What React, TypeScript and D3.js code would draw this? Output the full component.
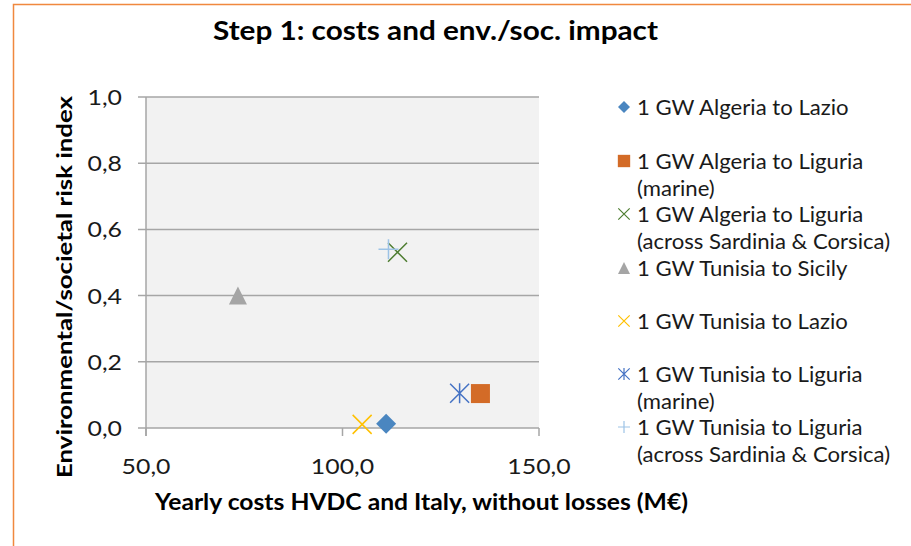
import React from "react";
import * as d3 from "d3";

const titleText = "Step 1: costs and env./soc. impact";
const xTitle = "Yearly costs HVDC and Italy, without losses (M€)";
const yTitle = "Environmental/societal risk index";

const seriesNames = [
  ["1 GW Algeria to Lazio"],
  ["1 GW Algeria to Liguria", "(marine)"],
  ["1 GW Algeria to Liguria", "(across Sardinia & Corsica)"],
  ["1 GW Tunisia to Sicily"],
  ["1 GW Tunisia to Lazio"],
  ["1 GW Tunisia to Liguria", "(marine)"],
  ["1 GW Tunisia to Liguria", "(across Sardinia & Corsica)"],
];
const xValues = [111.1, 135.1, 114.0, 73.4, 105.0, 129.8, 111.7];
const yValues = [0.013, 0.104, 0.531, 0.4, 0.011, 0.105, 0.54];
const markerTypes = ["diamond", "square", "x", "triangle", "x", "star", "plus"];
const colors = ["#4a86c0", "#d36b27", "#4e7d31", "#a5a5a5", "#ffc000", "#4472c4", "#9dc3e6"];

const xTicks = [50, 100, 150];
const yTicks = [0, 0.2, 0.4, 0.6, 0.8, 1.0];
const legendRowY = [107, 161, 214, 268, 321, 374, 427];

const FONT = "Lato, 'Open Sans', sans-serif";
const fmt = (v: number) => v.toFixed(1).replace(".", ",");

function Marker({ type, color, cx, cy, s }: { type: string; color: string; cx: number; cy: number; s: number }) {
  const h = s / 2;
  if (type === "diamond") {
    const p = d3.path();
    p.moveTo(cx, cy - h); p.lineTo(cx + h, cy); p.lineTo(cx, cy + h); p.lineTo(cx - h, cy); p.closePath();
    return <path d={p.toString()} fill={color} />;
  }
  if (type === "square") {
    const q = h * 0.95;
    return <rect x={cx - q} y={cy - q} width={2 * q} height={2 * q} fill={color} />;
  }
  if (type === "triangle") {
    const p = d3.path();
    p.moveTo(cx, cy - h); p.lineTo(cx + h, cy + h); p.lineTo(cx - h, cy + h); p.closePath();
    return <path d={p.toString()} fill={color} />;
  }
  const sw = s > 14 ? 1.5 : 1.2;
  if (type === "x") {
    const q = h * 0.95;
    return (
      <path d={`M${cx - q},${cy - q}L${cx + q},${cy + q}M${cx - q},${cy + q}L${cx + q},${cy - q}`} stroke={color} strokeWidth={sw} fill="none" />
    );
  }
  if (type === "star") {
    const q = h * 0.95;
    return (
      <path d={`M${cx - q},${cy - q}L${cx + q},${cy + q}M${cx - q},${cy + q}L${cx + q},${cy - q}M${cx},${cy - h}L${cx},${cy + h}`} stroke={color} strokeWidth={sw} fill="none" />
    );
  }
  return (
    <path d={`M${cx - h},${cy}L${cx + h},${cy}M${cx},${cy - h}L${cx},${cy + h}`} stroke={color} strokeWidth={sw} fill="none" />
  );
}

export default function App() {
  const W = 911, H = 546;
  const plot = { left: 146, right: 539, top: 97, bottom: 428 };
  const x = d3.scaleLinear().domain([50, 150]).range([plot.left, plot.right]);
  const y = d3.scaleLinear().domain([0, 1]).range([plot.bottom, plot.top]);
  const grid = "#a6a6a6";
  const tickScale = 1.13;
  const legScale = 1.08;

  return (
    <svg width={W} height={H} style={{ position: "absolute", left: 0, top: 0, background: "#fff" }} fontFamily={FONT}>
      <rect x={0} y={0} width={W} height={H} fill="#fff" />
      <path d={`M13.5,${H}L13.5,4.5L${W},4.5`} stroke="#f0883e" strokeWidth={1.5} fill="none" />

      <text x={435.5} y={40} textAnchor="middle" fontSize={26} fontWeight="bold" fill="#000" textLength={445} lengthAdjust="spacingAndGlyphs">
        {titleText}
      </text>

      <rect x={plot.left} y={plot.top} width={plot.right - plot.left} height={plot.bottom - plot.top} fill="#f2f2f2" />
      {yTicks.map((t) => (
        <g key={"gy" + t}>
          <line x1={plot.left - 8} x2={plot.right} y1={y(t)} y2={y(t)} stroke={grid} strokeWidth={1.5} />
          <g transform={`translate(122,${y(t) + 8}) scale(${tickScale},1)`}>
            <text x={0} y={0} textAnchor="end" fontSize={22} fill="#1a1a1a">{fmt(t)}</text>
          </g>
        </g>
      ))}
      <line x1={plot.left} x2={plot.left} y1={plot.top} y2={plot.bottom + 8} stroke={grid} strokeWidth={1.5} />
      {xTicks.map((t) => (
        <g key={"gx" + t}>
          <line x1={x(t)} x2={x(t)} y1={plot.bottom} y2={plot.bottom + 8} stroke={grid} strokeWidth={1.5} />
          <g transform={`translate(${x(t)},474) scale(${tickScale},1)`}>
            <text x={0} y={0} textAnchor="middle" fontSize={22} fill="#1a1a1a">{fmt(t)}</text>
          </g>
        </g>
      ))}

      {xValues.map((xv, i) => (
        <Marker key={"m" + i} type={markerTypes[i]} color={colors[i]} cx={x(xv)} cy={y(yValues[i])} s={markerTypes[i] === "triangle" ? 18 : 20} />
      ))}

      <text x={421.5} y={510} textAnchor="middle" fontSize={22} fontWeight="bold" fill="#000" textLength={533} lengthAdjust="spacingAndGlyphs">
        {xTitle}
      </text>
      <text transform="translate(72,287) rotate(-90)" textAnchor="middle" fontSize={20} fontWeight="bold" fill="#000" textLength={382} lengthAdjust="spacingAndGlyphs">
        {yTitle}
      </text>

      {seriesNames.map((lines, i) => (
        <g key={"l" + i}>
          <Marker type={markerTypes[i]} color={colors[i]} cx={624} cy={legendRowY[i]} s={markerTypes[i] === "square" ? 13 : 12} />
          {lines.map((ln, j) => (
            <g key={j} transform={`translate(637,${legendRowY[i] + 7.5 + j * 27}) scale(${legScale},1)`}>
              <text x={0} y={0} fontSize={20.5} fill="#1a1a1a">{ln}</text>
            </g>
          ))}
        </g>
      ))}
    </svg>
  );
}
